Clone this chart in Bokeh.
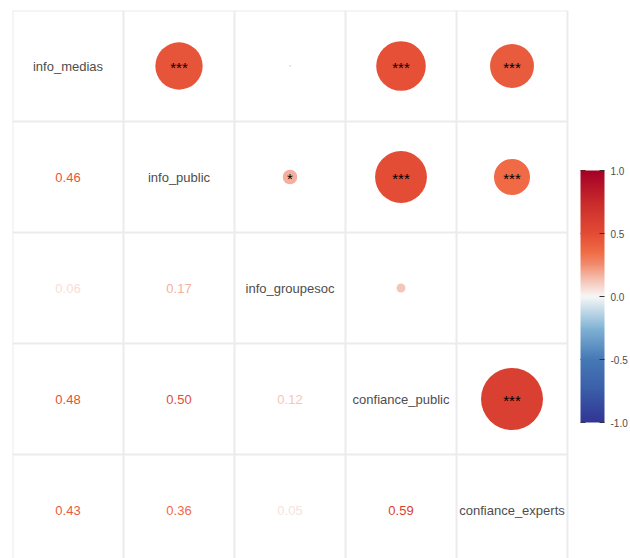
from bokeh.plotting import figure
from bokeh.models import (ColumnDataSource, Range1d, LinearColorMapper, ColorBar,
                          FixedTicker, PrintfTickFormatter)
from bokeh.core.properties import value
from bokeh.embed import file_html
from bokeh.resources import INLINE

# Variables in the correlation matrix
variables = ["info_medias", "info_public", "info_groupesoc",
             "confiance_public", "confiance_experts"]

# Lower-triangle pairs (row index > column index) and their correlations
pair_rows = [1, 2, 2, 3, 3, 3, 4, 4, 4, 4]
pair_cols = [0, 0, 1, 0, 1, 2, 0, 1, 2, 3]
correlations = [0.46, 0.06, 0.17, 0.48, 0.50, 0.12, 0.43, 0.36, 0.05, 0.59]
significance = ["***", "", "*", "***", "***", "", "***", "***", "", "***"]

# Colour-bar ticks
bar_ticks = [-1.0, -0.5, 0.0, 0.5, 1.0]

# Diverging red/blue gradient stops
stops = [(-1.0, "#313695"), (-0.75, "#3A5DA8"), (-0.5, "#4679B6"),
         (-0.25, "#82B4D6"), (0.0, "#F7F7F7"), (0.12, "#F5C6B8"),
         (0.25, "#F28E70"), (0.36, "#EF6A45"), (0.5, "#E34C35"),
         (0.75, "#C92B2B"), (1.0, "#A50026")]


def hex2rgb(h):
    return tuple(int(h[i:i + 2], 16) for i in (1, 3, 5))


def colour_at(v):
    for (a, ca), (b, cb) in zip(stops[:-1], stops[1:]):
        if a <= v <= b:
            t = (v - a) / (b - a)
            r1, g1, b1 = hex2rgb(ca)
            r2, g2, b2 = hex2rgb(cb)
            return "#%02x%02x%02x" % (round(r1 + (r2 - r1) * t),
                                      round(g1 + (g2 - g1) * t),
                                      round(b1 + (b2 - b1) * t))
    return stops[-1][1]


palette = [colour_at(-1 + 2 * i / 255) for i in range(256)]

CELL = 111
W, H = 630, 558
LEFT, TOP = 12, 10
n = len(variables)

p = figure(width=W, height=H, output_backend="svg", toolbar_location=None,
           x_range=Range1d(0, (W - LEFT) / CELL),
           y_range=Range1d((H - TOP) / CELL, 0),
           x_axis_location=None, y_axis_location=None,
           min_border_left=LEFT, min_border_top=TOP,
           min_border_right=0, min_border_bottom=0)
p.grid.visible = False
p.outline_line_color = None
p.background_fill_color = "white"

# Cell borders
xs, ys = [], []
for k in range(n + 1):
    xs.append([k, k]); ys.append([0, n])
    xs.append([0, n]); ys.append([k, k])
p.multi_line(xs, ys, line_color="#EBEBEB", line_width=2)

# Diagonal: variable names
diag = ColumnDataSource(dict(x=[i + 0.5 for i in range(n)],
                             y=[i + 0.5 for i in range(n)],
                             t=variables))
p.text("x", "y", text="t", source=diag, text_align="center",
       text_baseline="middle", text_font=value("Liberation Sans"),
       text_font_size="13px", text_color="#4D4D4D")

# Lower triangle: coefficients as coloured numbers
colours = [colour_at(r) for r in correlations]
lower = ColumnDataSource(dict(
    x=[c + 0.5 for c in pair_cols], y=[r + 0.5 for r in pair_rows],
    t=["%.2f" % r for r in correlations], c=colours))
p.text("x", "y", text="t", source=lower, text_align="center",
       text_baseline="middle", text_font=value("Liberation Sans"),
       text_font_size="13px", text_color="c")

# Upper triangle: circles sized by |r|, with significance stars
rmin = min(abs(r) for r in correlations)
rmax = max(abs(r) for r in correlations)
sizes = [1 + (abs(r) - rmin) / (rmax - rmin) * 61 for r in correlations]
upper = ColumnDataSource(dict(
    x=[r + 0.5 for r in pair_rows], y=[c + 0.5 for c in pair_cols],
    s=sizes, c=colours, t=significance))
p.scatter("x", "y", size="s", source=upper, fill_color="c",
          line_color=None)
p.text("x", "y", text="t", source=upper, text_align="center",
       text_baseline="middle", text_font=value("Liberation Sans"),
       text_font_size="15px", text_color="black", y_offset=1)

# Colour bar
BAR_X, BAR_Y, BAR_W, BAR_H = 568, 136, 24, 252
mapper = LinearColorMapper(palette=palette, low=-1, high=1)
cb = ColorBar(color_mapper=mapper, location=(BAR_X, BAR_Y), width=BAR_W,
              height=BAR_H, padding=0, ticker=FixedTicker(ticks=bar_ticks),
              formatter=PrintfTickFormatter(format="%.1f"),
              major_label_text_font="Liberation Sans",
              major_label_text_font_size="10px",
              major_label_text_color="#4D4D4D",
              label_standoff=6, major_tick_in=5, major_tick_out=0,
              major_tick_line_color="#333333", minor_tick_line_color=None,
              bar_line_color=None, border_line_color=None,
              background_fill_alpha=0)
p.add_layout(cb)

# Inward ticks on the left edge of the bar as well
frame_h = H - TOP
tick_y = [(frame_h - BAR_Y - (t + 1) / 2 * BAR_H) / CELL for t in bar_ticks]
tick_c = ["#333333" if t != 0 else "#DDDDDD" for t in bar_ticks]
p.segment(x0=[BAR_X / CELL] * len(bar_ticks), y0=tick_y,
          x1=[(BAR_X + 5) / CELL] * len(bar_ticks), y1=tick_y,
          line_color=tick_c, line_width=1)

open("out.html", "w").write(file_html(p, INLINE))
